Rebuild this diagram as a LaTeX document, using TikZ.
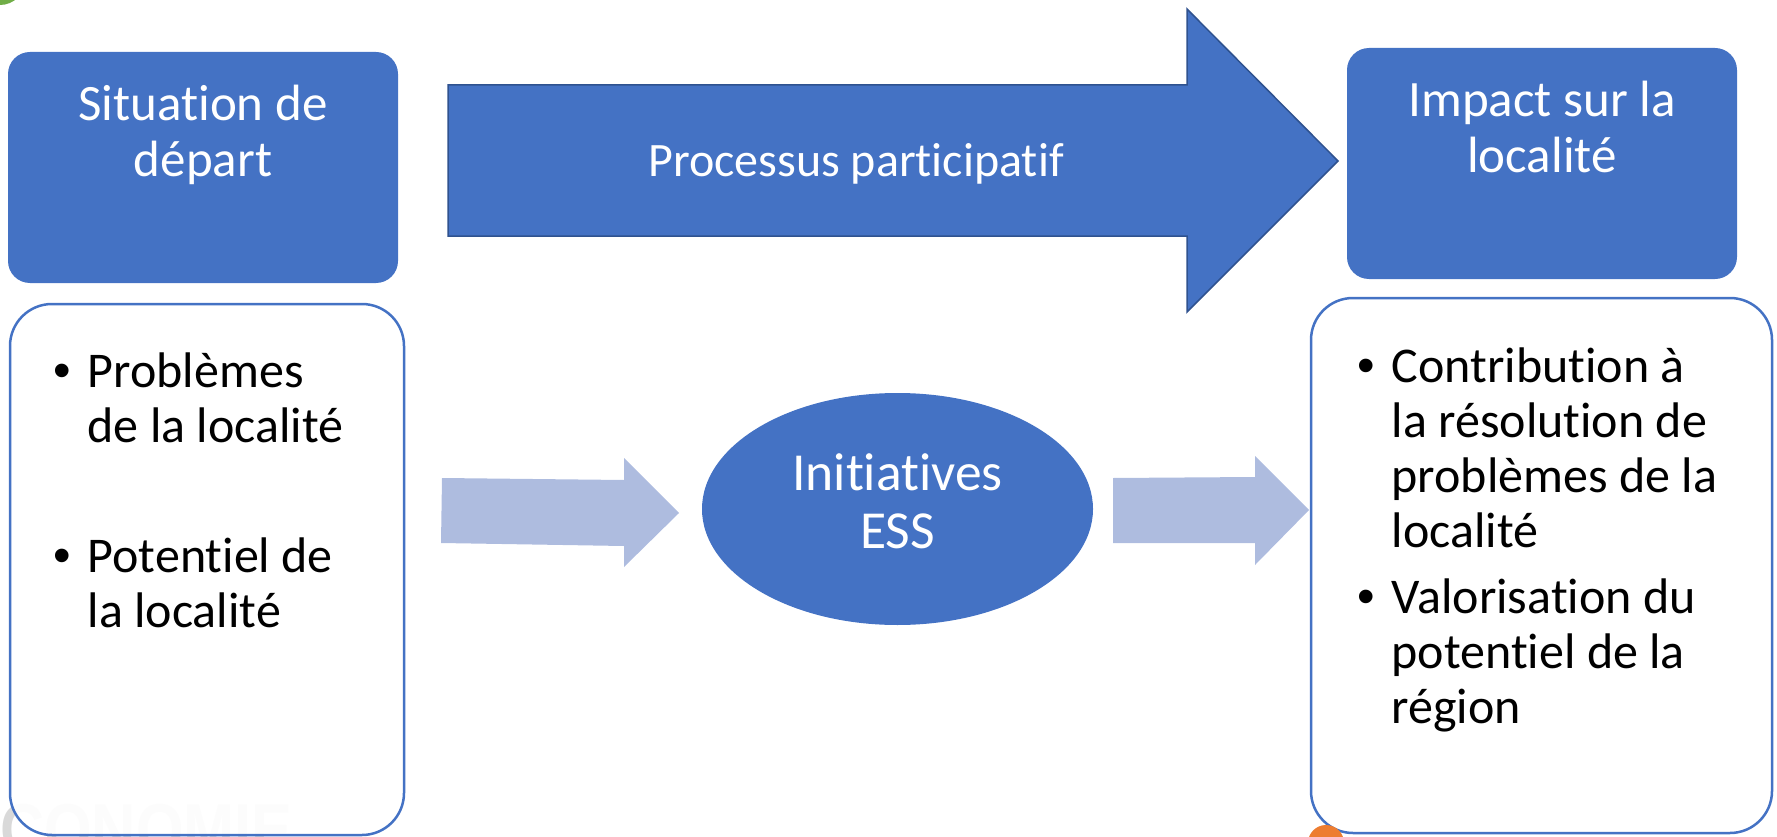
\documentclass[tikz,border=0pt]{standalone}
\usepackage{fontspec}
\setmainfont[Ligatures=NoCommon]{Carlito}
\newfontfamily\arialf{Liberation Sans}
\usetikzlibrary{shapes.geometric}
\definecolor{accblue}{HTML}{4472C4}
\definecolor{accborder}{HTML}{2F528F}
\definecolor{lightarrow}{HTML}{AEBCDF}
\definecolor{accorange}{HTML}{ED7D31}
\definecolor{accgreen}{HTML}{70AD47}
\definecolor{wmgray}{HTML}{D9D9D9}
\begin{document}
\begin{tikzpicture}[x=1pt,y=-1pt,
  titlebox/.style={rectangle, fill=accblue, draw=none, rounded corners=22pt, inner sep=0pt},
  listbox/.style={rectangle, fill=white, fill opacity=0.93, draw=accblue, draw opacity=1, line width=2.5pt, rounded corners=42pt, inner sep=0pt},
  titletext/.style={text=white, font=\fontsize{51}{56}\selectfont, align=center, inner sep=0pt},
  proctext/.style={text=white, font=\fontsize{48}{55}\selectfont, inner sep=0pt},
  listtext/.style={text=black, font=\fontsize{50}{55}\selectfont, inner sep=0pt},
  bigarrow/.style={fill=accblue, draw=accborder, line width=1.5pt},
  smallarrow/.style={fill=lightarrow, draw=none},
  ellbox/.style={ellipse, fill=accblue, draw=none, inner sep=0pt}]
\useasboundingbox (0,0) rectangle (1777,837);
% decorations
\fill[accgreen] (0,-20) circle (25);
\node[anchor=base west, inner sep=0pt, text=wmgray, font=\arialf\bfseries\fontsize{72}{72}\selectfont] (wm) at (0,854) {\scalebox{0.85}[1]{CONOMIE}};
% boxes
\node[titlebox, minimum width=390pt, minimum height=231pt] (sit) at (203,167.5) {};
\node[titlebox, minimum width=390pt, minimum height=231pt] (imp) at (1542,163.5) {};
\node[listbox, minimum width=394pt, minimum height=531pt] (lbox) at (207,569.5) {};
\node[listbox, minimum width=461pt, minimum height=535pt] (rbox) at (1541.5,565.5) {};
\fill[accorange] (1326,843) circle (18);
% big arrow
\draw[bigarrow] (448,85) -- (1187,85) -- (1187,9) -- (1338,161) -- (1187,312) -- (1187,236) -- (448,236) -- cycle;
\node[proctext, anchor=base] (proc) at (856,177) {Processus participatif};
% ellipse
\node[ellbox, minimum width=391pt, minimum height=232pt] (ess) at (897.5,509) {};
\node[titletext, font=\fontsize{53.5}{58}\selectfont, anchor=base] (essT) at (897.5,548) {Initiatives\\ESS};
% small arrows
\fill[smallarrow] (442,478) -- (624,480) -- (624,458) -- (679,513) -- (624,567) -- (624,546) -- (441,543) -- cycle;
\fill[smallarrow] (1113,478) -- (1255,477) -- (1255,456) -- (1309,510) -- (1255,565) -- (1255,543) -- (1113,543) -- cycle;
% titles
\node[titletext, anchor=base] (sitT) at (203,177) {Situation de\\départ};
\node[titletext, anchor=base] (impT) at (1542,173) {Impact sur la\\localité};
% lists
\node[listtext, anchor=base west] (l1) at (53,387) {\begin{tabular}[t]{@{}l@{\hspace{17pt}}l@{}}{\arialf •}&Problèmes\\&de la localité\end{tabular}};
\node[listtext, anchor=base west] (l2) at (53,572) {\begin{tabular}[t]{@{}l@{\hspace{17pt}}l@{}}{\arialf •}&Potentiel de\\&la localité\end{tabular}};
\node[listtext, anchor=base west] (r1) at (1357,382) {\begin{tabular}[t]{@{}l@{\hspace{17pt}}l@{}}{\arialf •}&Contribution à\\&la résolution de\\&problèmes de la\\&localité\end{tabular}};
\node[listtext, anchor=base west] (r2) at (1357,613) {\begin{tabular}[t]{@{}l@{\hspace{17pt}}l@{}}{\arialf •}&Valorisation du\\&potentiel de la\\&région\end{tabular}};
\end{tikzpicture}
\end{document}
